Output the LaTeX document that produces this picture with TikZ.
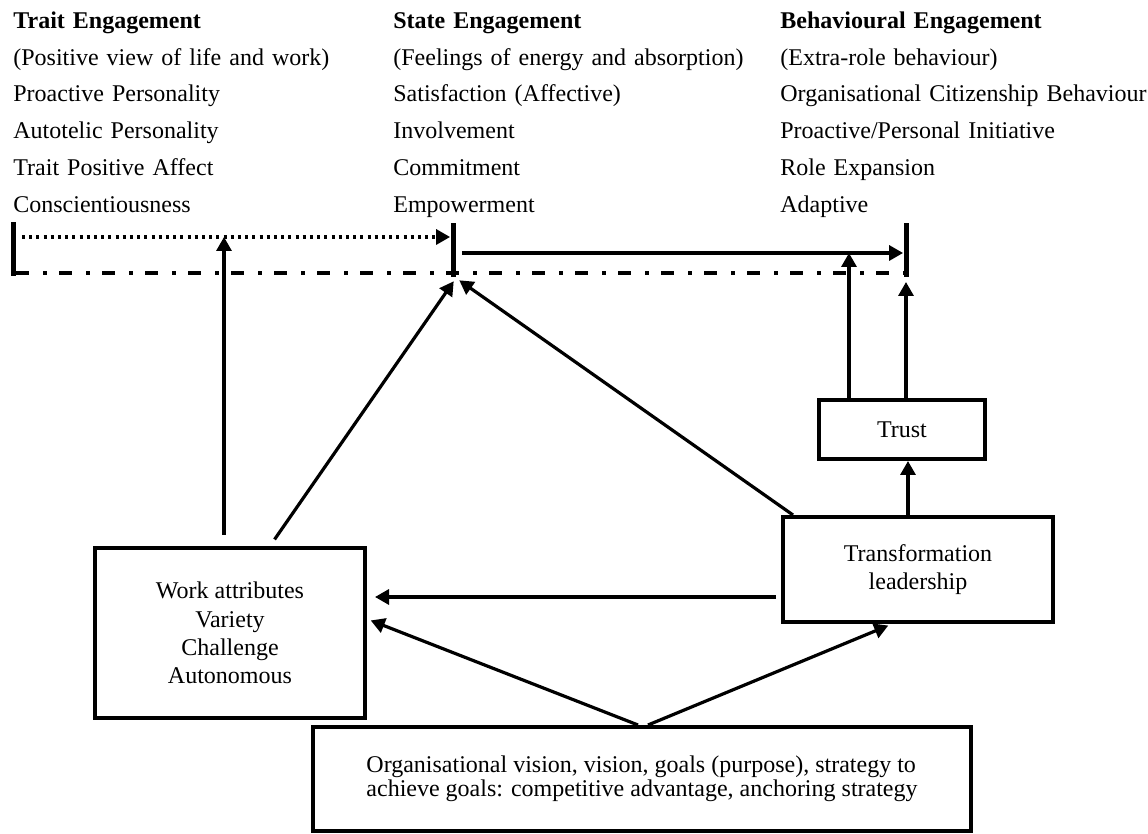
\documentclass[tikz,border=0pt]{standalone}
\usepackage{fontspec}
\setmainfont{Liberation Serif}
\usetikzlibrary{arrows.meta,positioning,chains}

\begin{document}
\begin{tikzpicture}[x=0.5pt,y=-0.5pt,
        every node/.style={font=\fontsize{12pt}{14.2pt}\selectfont},
        coltext/.style={text width=184pt,align=left,inner sep=0pt,text height=9pt,text depth=3pt},
        box/.style={draw,line width=2pt,align=center,inner sep=2pt},
        engbar/.style={fill=black,inner sep=0pt,minimum width=2.5pt,minimum height=27pt},
        link/.style={line width=1.6pt,-{Triangle[length=7pt,width=7.5pt]}},
        dotlink/.style={link,dash pattern=on 1.5pt off 2.1pt},
        dashdot/.style={line width=1.7pt,dash pattern=on 6.5pt off 7pt on 2pt off 6pt}
        ]
        \useasboundingbox (0,0) rectangle (1148,834);

        % trait engagement
        \begin{scope}[shift={(13,10)},start chain=going below,node distance=6pt]
        \node[coltext,on chain,anchor=north west] (te0) {\textbf{Trait Engagement}};
        \node[coltext,on chain] (te1) {(Positive view of life and work)};
        \node[coltext,on chain] (te2) {Proactive Personality};
        \node[coltext,on chain] (te3) {Autotelic Personality};
        \node[coltext,on chain] (te4) {Trait Positive Affect};
        \node[coltext,on chain] (te5) {Conscientiousness};
        \end{scope}

        % state engagement
        \begin{scope}[shift={(393,10)},start chain=going below,node distance=6pt]
        \node[coltext,on chain,anchor=north west] (se0) {\textbf{State Engagement}};
        \node[coltext,on chain] (se1) {(Feelings of energy and absorption)};
        \node[coltext,on chain] (se2) {Satisfaction (Affective)};
        \node[coltext,on chain] (se3) {Involvement};
        \node[coltext,on chain] (se4) {Commitment};
        \node[coltext,on chain] (se5) {Empowerment};
        \end{scope}

        % behavioural engagement
        \begin{scope}[shift={(780,10)},start chain=going below,node distance=6pt]
        \node[coltext,on chain,anchor=north west] (be0) {\textbf{Behavioural Engagement}};
        \node[coltext,on chain] (be1) {(Extra-role behaviour)};
        \node[coltext,on chain] (be2) {Organisational Citizenship Behaviour};
        \node[coltext,on chain] (be3) {Proactive/Personal Initiative};
        \node[coltext,on chain] (be4) {Role Expansion};
        \node[coltext,on chain] (be5) {Adaptive};
        \end{scope}

        % the bars
        \node[engbar] (tbar) at (13,249.5) {};
        \node[engbar] (sbar) at (453,250) {};
        \node[engbar] (bbar) at (906,250.5) {};

        \coordinate (dotA) at (224,237);
        \coordinate (solA) at (849,253);
        \coordinate (ddA) at (16,273);
        \coordinate (ddB) at (904,273);
        \coordinate (sTip) at (456,278);
        \coordinate (bTip) at (906,282);
        \coordinate (hLine) at (0,597);

        \draw[dotlink,shorten <=3pt] (tbar.east |- dotA) -- (sbar.west |- dotA);
        \draw[link,shorten <=3pt] (sbar.east |- solA) -- (bbar.west |- solA);
        \draw[dashdot] (ddA) -- (ddB);

        % the boxes
        \node[box,minimum width=135pt,minimum height=85pt] (work) at (230,633) {Work attributes\\Variety\\Challenge\\Autonomous};
        \node[box,minimum width=135pt,minimum height=52.5pt] (trans) at (918,569.5) {Transformation\\leadership};
        \node[box,minimum width=83pt,minimum height=29.5pt] (trust) at (902,429.5) {Trust};
        \node[box,minimum width=329pt,minimum height=52pt,align=left,font=\fontsize{12pt}{12pt}\selectfont] (org) at (642,779) {Organisational vision, vision, goals (purpose), strategy to\\achieve goals: competitive advantage, anchoring strategy};

        % the arrows
        \draw[link,shorten <=5.5pt] (work.north -| dotA) -- (dotA);
        \draw[link,shorten <=4pt,shorten >=2pt] ([xshift=20pt]work.north) -- (sTip);
        \draw[link,shorten >=2pt] ([xshift=6pt]trans.north west) -- (sTip);
        \draw[link] (trust.north -| solA) -- (solA);
        \draw[link] (trust.north -| bTip) -- (bTip);
        \draw[link] ([xshift=3pt]trust.south |- trans.north) -- ([xshift=3pt]trust.south);
        \draw[link,shorten <=2.5pt,shorten >=4pt] (trans.west |- hLine) -- (work.east |- hLine);
        \draw[link,shorten >=2pt] ([xshift=-2pt]org.north) -- ([yshift=7pt]work.east);
        \draw[link,shorten >=2pt] ([xshift=3pt]org.north) -- ([xshift=-13pt]trans.south);
        \end{tikzpicture}
\end{document}
